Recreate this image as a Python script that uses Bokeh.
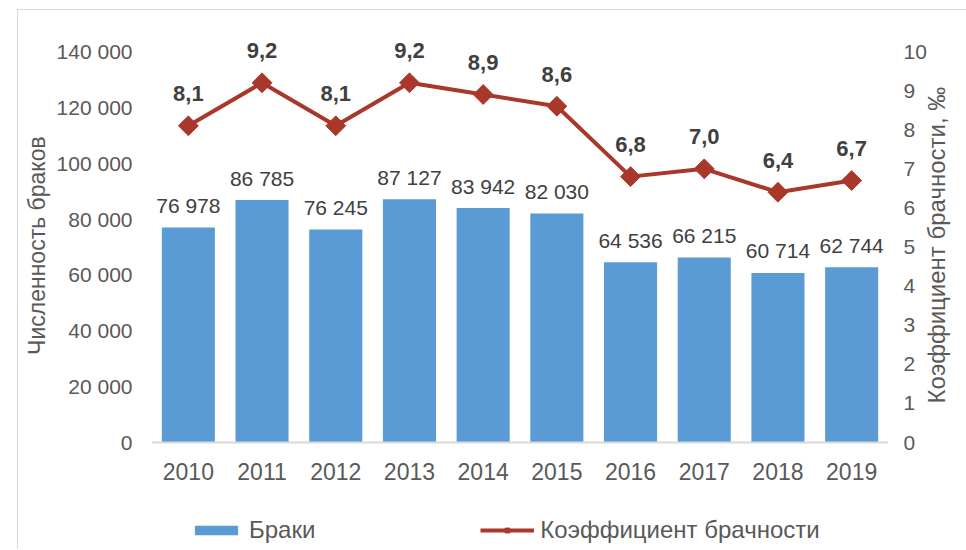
import math
from bokeh.plotting import figure
from bokeh.models import (ColumnDataSource, FactorRange, Range1d, LinearAxis, FixedTicker,
                          Legend, LegendItem)
from bokeh.core.properties import value
from bokeh.embed import file_html
from bokeh.resources import INLINE

years = ["2010", "2011", "2012", "2013", "2014", "2015", "2016", "2017", "2018", "2019"]
marriages = [76978, 86785, 76245, 87127, 83942, 82030, 64536, 66215, 60714, 62744]
rate = [8.1, 9.2, 8.1, 9.2, 8.9, 8.6, 6.8, 7.0, 6.4, 6.7]
left_ticks = [0, 20000, 40000, 60000, 80000, 100000, 120000, 140000]
left_tick_labels = ["0", "20 000", "40 000", "60 000", "80 000", "100 000", "120 000", "140 000"]
right_ticks = [0, 1, 2, 3, 4, 5, 6, 7, 8, 9, 10]
left_title = "Численность браков"
right_title = "Коэффициент брачности, ‰"

FONT = "Liberation Sans"
BAR = "#5b9bd5"
LINE = "#a9372a"
TXT = "#595959"
LBL = "#404040"

# layout (pixels)
W, H = 966, 549
TOP, BOTTOM, LEFT, RIGHT = 20, 2, 151, 77
AXIS_PX = 391          # pixel height of the 0..max value band
ABOVE_PX = 31          # frame space above the max value (room for data labels)
frame_h = H - TOP - BOTTOM
below_px = frame_h - AXIS_PX - ABOVE_PX
LMAX, RMAX = 140000, 10
PAD = "\u00a0" * 12    # lifts the left title to the centre of the value band
RIGHT_TITLE_START = 1  # right title starts at this rate level and reads upward

src = ColumnDataSource(dict(
    year=years,
    marriages=marriages,
    rate=rate,
    mlab=[f"{v:,}".replace(",", " ") for v in marriages],
    rlab=[f"{v:.1f}".replace(".", ",") for v in rate],
))

p = figure(x_range=FactorRange(*years),
           y_range=Range1d(-below_px * LMAX / AXIS_PX, LMAX + ABOVE_PX * LMAX / AXIS_PX),
           width=W, height=H, output_backend="svg", toolbar_location=None,
           min_border_left=LEFT, min_border_right=RIGHT, min_border_top=TOP,
           min_border_bottom=BOTTOM,
           styles={"background": "linear-gradient(#d9d9d9,#d9d9d9) 17px 9px / 1px 100% no-repeat, "
                                 "linear-gradient(#d9d9d9,#d9d9d9) 17px 9px / 100% 1px no-repeat"})
p.extra_y_ranges = {"rate": Range1d(-below_px * RMAX / AXIS_PX, RMAX + ABOVE_PX * RMAX / AXIS_PX)}
p.outline_line_color = None
p.grid.grid_line_color = None
p.background_fill_color = "white"
p.border_fill_alpha = 0

bars = p.vbar(x="year", top="marriages", width=0.72, source=src, color=BAR, line_color=None)
p.text(x="year", y="marriages", text="mlab", source=src, text_align="center",
       text_baseline="alphabetic", y_offset=-22, text_font=value(FONT),
       text_font_size="21px", text_color=LBL)

ln = p.line(x="year", y="rate", source=src, y_range_name="rate", line_color=LINE, line_width=4)
mk = p.scatter(x="year", y="rate", source=src, y_range_name="rate", marker="square",
               angle=math.pi / 4, size=14, color=LINE)
p.text(x="year", y="rate", text="rlab", source=src, y_range_name="rate", text_align="center",
       text_baseline="alphabetic", y_offset=-32, text_font=value(FONT),
       text_font_size="22px", text_font_style="bold", text_color=LBL)

# left axis
ya = p.yaxis[0]
ya.ticker = FixedTicker(ticks=left_ticks)
ya.bounds = (0, LMAX)
ya.major_label_overrides = {t: l for t, l in zip(left_ticks, left_tick_labels)}
ya.axis_line_color = None
ya.major_tick_line_color = None
ya.minor_tick_line_color = None
ya.major_label_standoff = 13
ya.major_label_text_font = FONT
ya.major_label_text_font_size = "21px"
ya.major_label_text_color = TXT
ya.axis_label = PAD + left_title
ya.axis_label_text_font = FONT
ya.axis_label_text_font_size = "23px"
ya.axis_label_text_font_style = "normal"
ya.axis_label_text_color = TXT
ya.axis_label_standoff = 4

# right axis (values)
ra = LinearAxis(y_range_name="rate", ticker=FixedTicker(ticks=right_ticks), bounds=(0, RMAX))
ra.axis_line_color = None
ra.major_tick_line_color = None
ra.minor_tick_line_color = None
ra.major_label_standoff = 9
ra.major_label_text_font = FONT
ra.major_label_text_font_size = "21px"
ra.major_label_text_color = TXT
p.add_layout(ra, "right")

# right axis title, reading bottom-to-top
rt = LinearAxis(y_range_name="rate", ticker=FixedTicker(ticks=[RIGHT_TITLE_START]),
                major_label_overrides={RIGHT_TITLE_START: right_title},
                major_label_orientation=math.pi / 2)
rt.axis_line_color = None
rt.major_tick_line_color = None
rt.minor_tick_line_color = None
rt.major_label_standoff = 1
rt.major_label_text_font = FONT
rt.major_label_text_font_size = "24px"
rt.major_label_text_color = TXT
p.add_layout(rt, "right")

# x axis, drawn at y = 0 inside the frame
xa = p.xaxis[0]
xa.fixed_location = 0
xa.axis_line_color = "#d9d9d9"
xa.axis_line_width = 2
xa.major_tick_line_color = None
xa.minor_tick_line_color = None
xa.major_label_standoff = 14
xa.major_label_text_font = FONT
xa.major_label_text_font_size = "23px"
xa.major_label_text_color = TXT

legend = Legend(items=[LegendItem(label="Браки", renderers=[bars]),
                       LegendItem(label="Коэффициент брачности", renderers=[ln, mk])],
                orientation="horizontal", location=(38, 3), padding=0, margin=0,
                spacing=165, glyph_width=54, glyph_height=12, label_standoff=6,
                label_text_font=FONT, label_text_font_size="24px", label_text_color=TXT,
                border_line_color=None, background_fill_alpha=0)
p.add_layout(legend, "center")

open("out.html", "w").write(file_html(p, INLINE))
